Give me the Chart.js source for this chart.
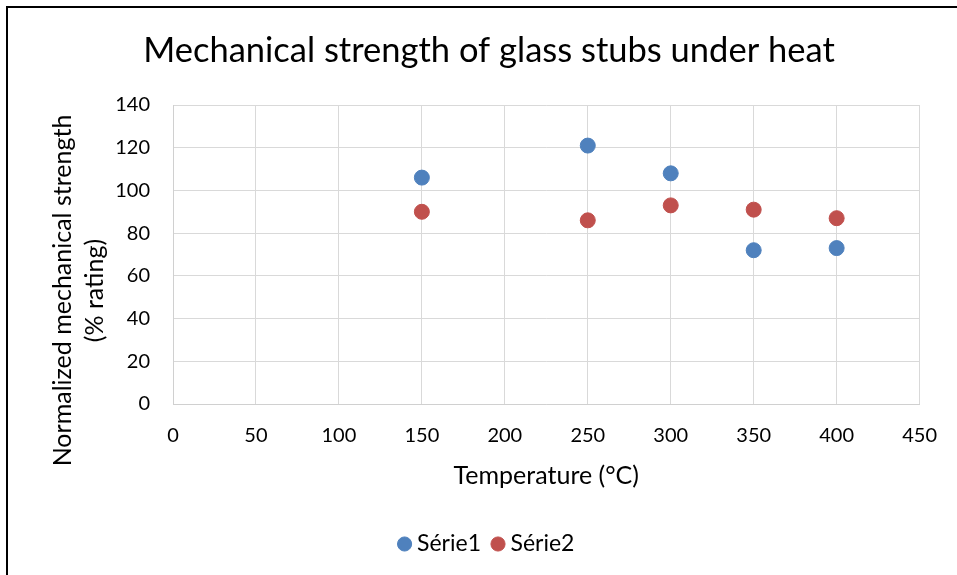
<!DOCTYPE html>
<html>
<head>
<meta charset="utf-8">
<script src="https://cdn.jsdelivr.net/npm/chart.js@4"></script>
<style>
  body { margin: 0; background: #fff; }
  #wrap { position: relative; width: 957px; height: 575px; }
  #frame { position: absolute; left: 6px; top: 6px; right: 0; bottom: 0; border-top: 2px solid #000; border-left: 2px solid #000; pointer-events: none; }
</style>
</head>
<body>
<div id="wrap">
  <canvas id="myChart" width="957" height="575"></canvas>
  <div id="frame"></div>
</div>
<script>
const temperatures = [150, 250, 300, 350, 400];
const serie1 = [106, 121, 108, 72, 73];
const serie2 = [90, 86, 93, 91, 87];
const seriesNames = ['Série1', 'Série2'];

const FONT = 'Lato, "Open Sans", sans-serif';

// y axis title, drawn by hand so it sits where Excel puts it
const yTitle = {
    id: 'yTitle',
    afterDraw(chart) {
        const c = chart.ctx;
        const a = chart.chartArea;
        c.save();
        c.fillStyle = '#000';
        c.font = '25px ' + FONT;
        c.textAlign = 'center';
        c.textBaseline = 'middle';
        c.translate(a.left - 110, a.top + (a.bottom - a.top) / 2 + 36);
        c.rotate(-Math.PI / 2);
        c.fillText('Normalized mechanical strength', 0, 0);
        c.fillText('(% rating)', 0, 32);
        c.restore();
    }
};

const toPoints = vals => vals.map((v, i) => ({ x: temperatures[i], y: v }));

const ctx = document.getElementById('myChart').getContext('2d');
const myChart = new Chart(ctx, {
    type: 'scatter',
    data: {
        datasets: [{
            label: seriesNames[0],
            data: toPoints(serie1),
            backgroundColor: '#4F81BD',
            borderColor: '#4F81BD',
            pointRadius: 7.5,
            pointHoverRadius: 7.5
        }, {
            label: seriesNames[1],
            data: toPoints(serie2),
            backgroundColor: '#C0504D',
            borderColor: '#C0504D',
            pointRadius: 7.5,
            pointHoverRadius: 7.5
        }]
    },
    options: {
        responsive: false,
        animation: false,
        layout: {
            padding: { left: 58, right: 37, top: 10, bottom: 9.5 }
        },
        plugins: {
            title: {
                display: true,
                text: 'Mechanical strength of glass stubs under heat',
                color: '#000',
                font: { family: FONT, size: 34.5, weight: 'normal' },
                padding: { top: 20.6, bottom: 33 }
            },
            legend: {
                position: 'bottom',
                labels: {
                    color: '#000',
                    font: { family: FONT, size: 23 },
                    usePointStyle: true,
                    pointStyle: 'circle',
                    boxWidth: 2,
                    boxHeight: 10,
                    padding: 16
                }
            },
            tooltip: { enabled: false }
        },
        scales: {
            x: {
                type: 'linear',
                min: 0,
                max: 450,
                ticks: {
                    stepSize: 50,
                    color: '#000',
                    font: { family: FONT, size: 20 },
                    padding: 20
                },
                grid: { color: '#d9d9d9', drawTicks: false },
                border: { color: '#d0d0d0' },
                title: {
                    display: true,
                    text: 'Temperature (°C)',
                    color: '#000',
                    font: { family: FONT, size: 25 },
                    padding: { top: -7, bottom: 25.5 }
                }
            },
            y: {
                min: 0,
                max: 140,
                ticks: {
                    stepSize: 20,
                    color: '#000',
                    font: { family: FONT, size: 20 },
                    padding: 23
                },
                grid: { color: '#d9d9d9', drawTicks: false },
                border: { color: '#d0d0d0' },
                afterFit: function(scale) {
                    scale.width = 115;
                }
            }
        }
    },
    plugins: [yTitle]
});
</script>
</body>
</html>
